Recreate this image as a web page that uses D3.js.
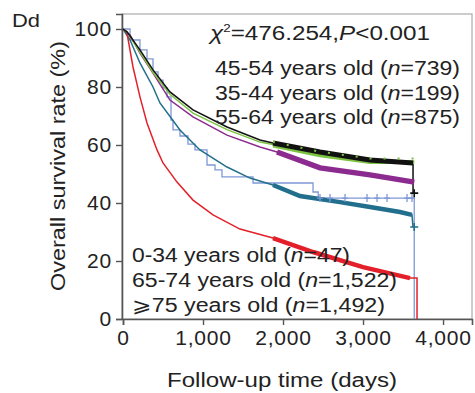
<!DOCTYPE html>
<html>
<head>
<meta charset="utf-8">
<script src="https://cdn.jsdelivr.net/npm/d3@7"></script>
<style>
  html, body { margin: 0; padding: 0; background: #ffffff; }
  svg { display: block; font-family: "Liberation Sans", Arial, sans-serif; }
</style>
</head>
<body>
<svg id="chart" width="475" height="393"></svg>
<script>
// ---- data ----
const xTicks = [0, 1000, 2000, 3000, 4000];
const yTicks = [0, 20, 40, 60, 80, 100];

const groupNames = ["45-54 years old", "35-44 years old", "55-64 years old",
                    "0-34 years old", "65-74 years old", "\u2A7E75 years old"];
const groupN = ["739", "199", "875", "47", "1,522", "1,492"];

// [days, survival %]
const s4554 = [[0,100],[50,99],[212,92.8],[375,85.9],[587,78.3],[875,72.1],[1300,66.2],[1712,61.7],[1875,60.7],[2462,57.6],[3087,54.8],[3625,53.8],[3625,43.4]];
const s3544 = [[0,100],[50,99],[212,92],[375,85],[587,77.5],[875,71],[1300,65.3],[1712,61],[1875,60.2],[2462,56.8],[3087,54.5],[3640,54.5]];
const s5564 = [[0,100],[88,97.9],[212,91.7],[375,84.8],[587,75.5],[875,69.7],[1300,63.4],[1712,59.3],[1925,57.6],[2462,52.1],[3087,49.7],[3640,47.2]];
const s6574 = [[0,100],[88,96.2],[212,88.3],[375,80],[462,74.5],[712,65.2],[962,58.3],[1300,52.4],[1587,48.6],[1875,46.2],[2212,42.4],[2712,40.3],[3087,38.6],[3462,36.9],[3612,35.9],[3625,31.7]];
const s75 = [[0,100],[50,98.6],[125,86.9],[212,76.6],[300,67.6],[425,58.3],[500,53.8],[675,47.2],[875,41],[1125,35.9],[1462,31],[1875,27.9],[2375,23.1],[3000,17.9],[3587,14.1],[3675,14.1],[3675,0]];
// step curve (Kaplan-Meier, small group)
const s034 = [[0,100],[88,96.2],[212,92.8],[300,89.7],[375,85.2],[438,82.4],[500,79.7],[550,76.6],[600,68.6],[625,65.2],[712,63.1],[812,60.3],[900,58.3],[1050,53.1],[1150,51.4],[1237,49.0],[1625,46.9],[2375,43.8],[2440,41.7],[3640,41.7],[3640,0]];
const censor034 = [2462, 2587, 2775, 3050, 3175, 3300, 3550, 3612];
// window [from, to] in days where dense censoring marks merge into a band
const bandWindow = { 0: [1820, 3625], 1: [1850, 3640], 2: [1900, 3640], 4: [1800, 3612], 5: [1800, 3600] };

// ---- layout ----
const svg = d3.select("#chart");
const x = d3.scaleLinear().domain([0, 4362]).range([123, 472]);
const y = d3.scaleLinear().domain([0, 105.17]).range([319, 14]);

svg.append("rect").attr("x", 122).attr("y", 14).attr("width", 350).attr("height", 305)
  .attr("fill", "#ffffff").attr("stroke", "#9a9a9a").attr("stroke-width", 1);

const yAxis = svg.append("g").attr("transform", "translate(122,0)")
  .call(d3.axisLeft(y).tickValues(yTicks).tickSize(6).tickPadding(4).tickFormat(d3.format("d")));
const xAxis = svg.append("g").attr("transform", "translate(0,319)")
  .call(d3.axisBottom(x).tickValues(xTicks).tickSize(6).tickPadding(5).tickFormat(d3.format(",")));
[yAxis, xAxis].forEach(g => {
  g.select(".domain").attr("stroke", "#555").attr("stroke-width", 1.6);
  g.selectAll(".tick line").attr("stroke", "#555").attr("stroke-width", 1.4);
  g.selectAll(".tick text").attr("fill", "#222").style("font-size", "21px")
    .style("letter-spacing", "0.8px")
    .style("font-family", "'Liberation Sans', Arial, sans-serif");
});

// ---- curves ----
const colors = ["#111111", "#7cc242", "#8c2b8f", "#7f98d8", "#216f8c", "#e3202a"];
const series = [s4554, s3544, s5564, s034, s6574, s75];
const linear = d3.line().x(d => x(d[0])).y(d => y(d[1]));
const stepped = d3.line().x(d => x(d[0])).y(d => y(d[1])).curve(d3.curveStepAfter);

const plotG = svg.append("g");
const order = [3, 4, 5, 2, 1, 0];
order.forEach(i => {
  plotG.append("path").datum(series[i]).attr("d", i === 3 ? stepped : linear)
    .attr("fill", "none").attr("stroke", colors[i]).attr("stroke-width", i === 3 ? 1.3 : 1.5);
});

const band = (i, w, extra) => {
  const [a, b] = bandWindow[i];
  const pts = series[i].filter((d, j, arr) => d[0] >= a && d[0] <= b && !(j > 0 && arr[j - 1][0] === d[0]));
  const p = plotG.append("path").datum(pts).attr("d", linear).attr("fill", "none")
    .attr("stroke", colors[i]).attr("stroke-width", w).attr("stroke-linecap", "butt");
  if (extra) extra(p);
  return p;
};
band(4, 4.5);
band(5, 4.5);
band(2, 5.5);
band(1, 3, p => p.attr("transform", "translate(0,1.5)"));
band(0, 5);
band(1, 2, p => p.attr("stroke-dasharray", "2,12").attr("transform", "translate(0,-2.5)"));

censor034.forEach(c => {
  const cx = x(c), cy = y(41.7);
  plotG.append("path").attr("d", `M${cx - 3},${cy}H${cx + 3}M${cx},${cy - 4}V${cy + 4}`)
    .attr("stroke", colors[3]).attr("stroke-width", 1.3);
});
[[0, 43.4], [4, 31.7]].forEach(([i, v]) => {
  const cx = x(3640), cy = y(v);
  plotG.append("path").attr("d", `M${cx - 4},${cy}H${cx + 4}M${cx},${cy - 4}V${cy + 4}`)
    .attr("stroke", colors[i]).attr("stroke-width", 1.6);
});

// ---- texts ----
const txt = (xx, yy, size, len) => svg.append("text").attr("x", xx).attr("y", yy)
  .style("font-size", size + "px").attr("fill", "#222")
  .attr("textLength", len).attr("lengthAdjust", "spacingAndGlyphs");

txt(12, 27, 18, 28).text("Dd");

const chi = txt(210, 40, 20, 220);
chi.append("tspan").style("font-style", "italic").text("\u03C7");
chi.append("tspan").attr("dy", -8).style("font-size", "11px").text("2");
chi.append("tspan").attr("dy", 8).text("=476.254,");
chi.append("tspan").style("font-style", "italic").text("P");
chi.append("tspan").text("<0.001");

const topY = [75, 100, 124];
[0, 1, 2].forEach((i, k) => {
  const t = txt(215, topY[k], 20, 245);
  t.append("tspan").text(groupNames[i] + " (");
  t.append("tspan").style("font-style", "italic").text("n");
  t.append("tspan").text("=" + groupN[i] + ")");
});
const botY = [262, 287, 312];
const botLen = [218, 265, 253];
[3, 4, 5].forEach((i, k) => {
  const t = txt(132, botY[k], 20, botLen[k]);
  t.append("tspan").text(groupNames[i] + " (");
  t.append("tspan").style("font-style", "italic").text("n");
  t.append("tspan").text("=" + groupN[i] + ")");
});

svg.append("text").attr("transform", "translate(65,166) rotate(-90)").attr("text-anchor", "middle")
  .style("font-size", "20px").attr("fill", "#222")
  .attr("textLength", 250).attr("lengthAdjust", "spacingAndGlyphs").text("Overall survival rate (%)");
svg.append("text").attr("x", 282).attr("y", 387).attr("text-anchor", "middle")
  .style("font-size", "20px").attr("fill", "#222")
  .attr("textLength", 230).attr("lengthAdjust", "spacingAndGlyphs").text("Follow-up time (days)");
</script>
</body>
</html>
